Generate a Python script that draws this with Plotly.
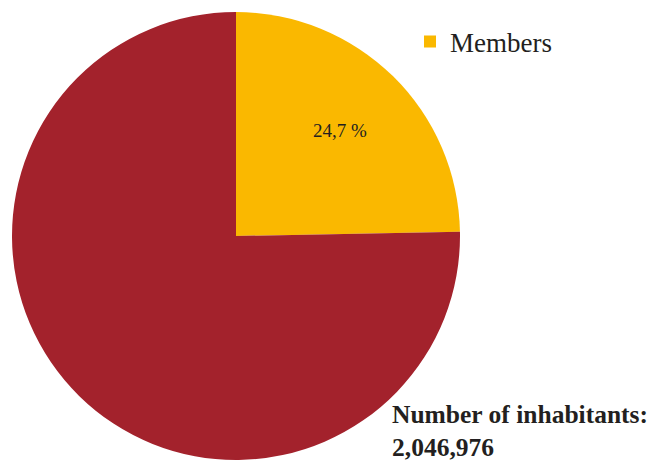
import math
import plotly.graph_objects as go

labels = ["Members", "Non-members"]
values = [24.7, 75.3]
slice_text = ["24,7 %", ""]
colors = ["#FAB800", "#A3222C"]
total_label = "Number of inhabitants:"
total_value = "2,046,976"

# the page body adds an 8px margin, so the figure is sized to fit the window
W, H = 648, 454
FONT = "Liberation Serif"
INK = "#231F20"


def px(x):
    return (x - 8) / W


def py(y):
    return 1 - (y - 8) / H


# pie geometry (window pixels)
CX, CY, R = 236, 236, 224

fig = go.Figure()
fig.add_trace(go.Pie(
    labels=labels, values=values, text=slice_text,
    textinfo="none", sort=False, direction="clockwise", rotation=0,
    marker=dict(colors=colors, line=dict(width=0)),
    domain=dict(x=[px(CX - R), px(CX + R)], y=[py(CY + R), py(CY - R)]),
    showlegend=False, hoverinfo="label+percent",
))
fig.add_trace(go.Scatter(
    x=[None], y=[None], mode="markers", name=labels[0],
    marker=dict(symbol="square", size=10, color=colors[0]),
    showlegend=True,
))

# slice label at the mid-angle of the first slice
mid = math.pi * values[0] / sum(values)
lx = CX + 0.66 * R * math.sin(mid)
ly = CY - 0.66 * R * math.cos(mid)

fig.update_layout(
    width=W, height=H,
    margin=dict(l=0, r=0, t=0, b=0),
    paper_bgcolor="white", plot_bgcolor="white",
    xaxis=dict(visible=False), yaxis=dict(visible=False),
    legend=dict(x=px(410), y=py(42), xanchor="left", yanchor="middle",
                font=dict(family=FONT, size=27, color=INK),
                itemsizing="constant", bgcolor="rgba(0,0,0,0)"),
    annotations=[
        dict(x=px(lx), y=py(ly), xref="paper", yref="paper",
             xanchor="center", yanchor="middle", showarrow=False,
             text=slice_text[0], font=dict(family=FONT, size=19, color=INK)),
        dict(x=px(390), y=py(398), xref="paper", yref="paper",
             xanchor="left", yanchor="top", align="left", showarrow=False,
             text=f"<b>{total_label}<br>{total_value}</b>",
             font=dict(family=FONT, size=25.5, color=INK)),
    ],
)
fig.write_html("out.html")
